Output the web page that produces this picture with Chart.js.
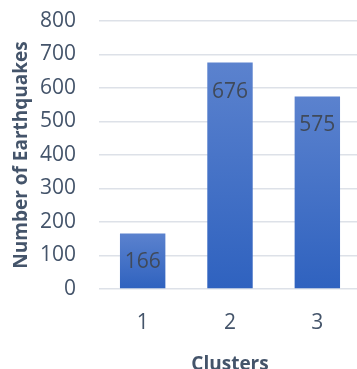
<!DOCTYPE html>
<html>
<head>
<meta charset="utf-8">
<script src="https://cdn.jsdelivr.net/npm/chart.js@4"></script>
<style>
  html, body { margin: 0; padding: 0; background: #fff; overflow: hidden; }
  #wrap { width: 361px; height: 369px; }
</style>
</head>
<body>
<div id="wrap"><canvas id="chart"></canvas></div>
<script>
// clusters and how many earthquakes fall in each
const clusters = ["1", "2", "3"];
const quakeCounts = [166, 676, 575];
const yTicks = [0, 100, 200, 300, 400, 500, 600, 700, 800];

const textColor = "#44546A";
const fontFamily = "'Open Sans', sans-serif";

// each bar gets its own light-to-dark vertical gradient
function barGradient(ctx) {
  const chart = ctx.chart;
  const yScale = chart.scales.y;
  if (!yScale || ctx.dataIndex === undefined) return "#4472C4";
  const top = yScale.getPixelForValue(ctx.raw);
  const bottom = yScale.getPixelForValue(0);
  if (!isFinite(top) || !isFinite(bottom) || top === bottom) return "#4472C4";
  const g = chart.ctx.createLinearGradient(0, top, 0, bottom);
  g.addColorStop(0, "#5B82CE");
  g.addColorStop(1, "#2F62BF");
  return g;
}

// writes the count inside each bar, a little below its top
const valueLabels = {
  id: "valueLabels",
  afterDatasetsDraw(chart) {
    const c = chart.ctx;
    const meta = chart.getDatasetMeta(0);
    c.save();
    c.font = "21px " + fontFamily;
    c.fillStyle = "#404A5A";
    c.textAlign = "center";
    c.textBaseline = "middle";
    meta.data.forEach((bar, i) => {
      c.fillText(String(quakeCounts[i]), bar.x, bar.y + 29);
    });
    c.restore();
  }
};

new Chart(document.getElementById("chart"), {
  type: "bar",
  data: {
    labels: clusters,
    datasets: [{
      data: quakeCounts,
      backgroundColor: barGradient,
      barPercentage: 0.52,
      categoryPercentage: 1.0
    }]
  },
  options: {
    responsive: true,
    maintainAspectRatio: false,
    animation: false,
    layout: { padding: { top: 21, left: 10, right: 0, bottom: 0 } },
    plugins: {
      legend: { display: false },
      tooltip: { enabled: false }
    },
    scales: {
      x: {
        afterFit(scale) { scale.height = 80; },
        grid: { display: false, drawTicks: false },
        border: { display: false },
        ticks: {
          color: textColor,
          font: { family: fontFamily, size: 21 },
          padding: 21
        },
        title: {
          display: true,
          text: "Clusters",
          color: textColor,
          font: { family: fontFamily, size: 19, weight: "bold" },
          padding: { top: 0, bottom: -7 }
        }
      },
      y: {
        min: 0,
        max: 800,
        afterBuildTicks(scale) {
          scale.ticks = yTicks.map(v => ({ value: v }));
        },
        afterFit(scale) {
          scale.width = 89;
          scale.paddingTop = 0;
          scale.paddingBottom = 0;
        },
        grid: { color: "#DDE1E8", lineWidth: 1.5, drawTicks: false },
        border: { display: false },
        ticks: {
          color: textColor,
          font: { family: fontFamily, size: 21 },
          padding: 23
        },
        title: {
          display: true,
          text: "Number of Earthquakes",
          color: textColor,
          font: { family: fontFamily, size: 19, weight: "bold" },
          padding: { top: 0, bottom: 0 }
        }
      }
    }
  },
  plugins: [valueLabels]
});
</script>
</body>
</html>
